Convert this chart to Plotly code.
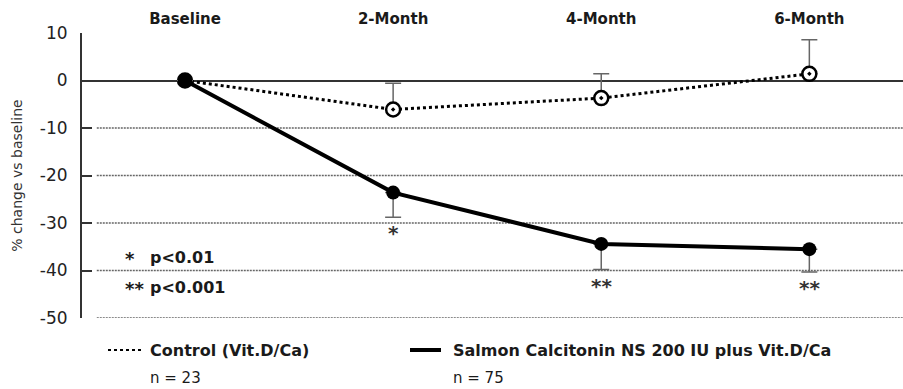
import plotly.graph_objects as go

categories = ["Baseline", "2-Month", "4-Month", "6-Month"]
control_vals = [0, -6.1, -3.7, 1.4]
control_err_up = [None, 5.5, 5.1, 7.2]
treat_vals = [0, -23.6, -34.4, -35.5]
treat_err_down = [None, 5.2, 5.4, 4.8]
treat_sig = ["", "*", "**", "**"]
y_tickvals = [10, 0, -10, -20, -30, -40, -50]
y_ticktext = ["10", "0", "-10", "-20", "-30", "-40", "-50"]
grid_vals = [-10, -20, -30, -40, -50]
control_name = "Control (Vit.D/Ca)"
control_n = "n = 23"
treat_name = "Salmon Calcitonin NS 200 IU plus Vit.D/Ca"
treat_n = "n = 75"

x = list(range(len(categories)))
FONT = "DejaVu Sans"
DARK = "#1a1a1a"

fig = go.Figure()

fig.add_trace(go.Scatter(
    x=x, y=control_vals, mode="lines+markers", name=control_name,
    line=dict(color="black", width=3, dash="dot"),
    marker=dict(symbol="circle-dot", size=14, color="white",
                line=dict(color="black", width=2.5)),
    error_y=dict(type="data", symmetric=False,
                 array=[e if e is not None else 0 for e in control_err_up],
                 arrayminus=[0] * len(categories),
                 color="#666666", thickness=1.5, width=8),
    showlegend=False,
))

fig.add_trace(go.Scatter(
    x=x, y=treat_vals, mode="lines+markers", name=treat_name,
    line=dict(color="black", width=4),
    marker=dict(symbol="circle", size=14, color="black"),
    error_y=dict(type="data", symmetric=False,
                 array=[0] * len(categories),
                 arrayminus=[e if e is not None else 0 for e in treat_err_down],
                 color="#666666", thickness=1.5, width=8),
    showlegend=False,
))

fig.add_trace(go.Scatter(
    x=[x[0]], y=[treat_vals[0]], mode="markers",
    marker=dict(symbol="circle", size=14, color="black"), showlegend=False,
))

shapes = []
for g in grid_vals:
    shapes.append(dict(type="line", xref="paper", yref="y", x0=0.018, x1=1,
                       y0=g, y1=g, layer="below",
                       line=dict(color="#666666", width=1.3, dash="2px,1px")))

annotations = []
for i, s in enumerate(treat_sig):
    if s:
        annotations.append(dict(x=x[i], y=treat_vals[i] - treat_err_down[i], xref="x", yref="y",
                                text="<b>" + s + "</b>", showarrow=False, yshift=-16,
                                font=dict(family=FONT, size=20, color="#333333")))


def px_x(p):
    return (p - 82) / 821.0


def px_y(p):
    return (318 - p) / 285.0


def note(px, py, text, size, bold=True):
    return dict(x=px_x(px), y=px_y(py), xref="paper", yref="paper",
                text=("<b>" + text + "</b>") if bold else text,
                showarrow=False, xanchor="left", yanchor="middle",
                font=dict(family=FONT, size=size, color=DARK))


annotations += [
    note(123, 258, "*", 18),
    note(148, 257, "p&lt;0.01", 16),
    note(123, 288, "**", 18),
    note(148, 287, "p&lt;0.001", 16),
    note(148, 350, control_name, 16),
    note(148, 378, control_n, 15, bold=False),
    note(451, 350, treat_name, 16),
    note(451, 378, treat_n, 15, bold=False),
]

shapes += [
    dict(type="line", xref="paper", yref="paper", x0=px_x(108), x1=px_x(141),
         y0=px_y(350), y1=px_y(350), line=dict(color="black", width=2, dash="dot")),
    dict(type="line", xref="paper", yref="paper", x0=px_x(410), x1=px_x(441),
         y0=px_y(350), y1=px_y(350), line=dict(color="black", width=4)),
]

fig.update_layout(
    width=903, height=389,
    margin=dict(l=82, r=0, t=33, b=71),
    plot_bgcolor="white", paper_bgcolor="white",
    font=dict(family=FONT, color=DARK),
    shapes=shapes, annotations=annotations,
    xaxis=dict(range=[-0.495, 3.45], side="top", tickvals=x, automargin=False,
               ticktext=["<b>" + c + "</b>" for c in categories],
               tickfont=dict(family=FONT, size=15, color=DARK),
               showgrid=False, zeroline=False, showline=False, ticks="", ticklabelstandoff=5),
    yaxis=dict(range=[-50, 10], tickvals=y_tickvals, ticktext=y_ticktext, automargin=False,
               tickfont=dict(family=FONT, size=17, color="#222222"),
               showgrid=False, zeroline=True, zerolinecolor="#333333", zerolinewidth=1.5,
               showline=True, linecolor="#333333", linewidth=2,
               ticks="inside", ticklen=10, tickcolor="#333333", tickwidth=2,
               ticklabelstandoff=9,
               title=dict(text="% change vs baseline", font=dict(family=FONT, size=14, color="#333333"),
                          standoff=14)),
)

fig.write_html("out.html", config={"displayModeBar": False})

# remove default page margin so the figure sits at the window origin
with open("out.html", "r", encoding="utf-8") as f:
    html = f.read()
html = html.replace("<head>", "<head><style>html,body{margin:0;padding:0;overflow:hidden;}</style>", 1)
with open("out.html", "w", encoding="utf-8") as f:
    f.write(html)
